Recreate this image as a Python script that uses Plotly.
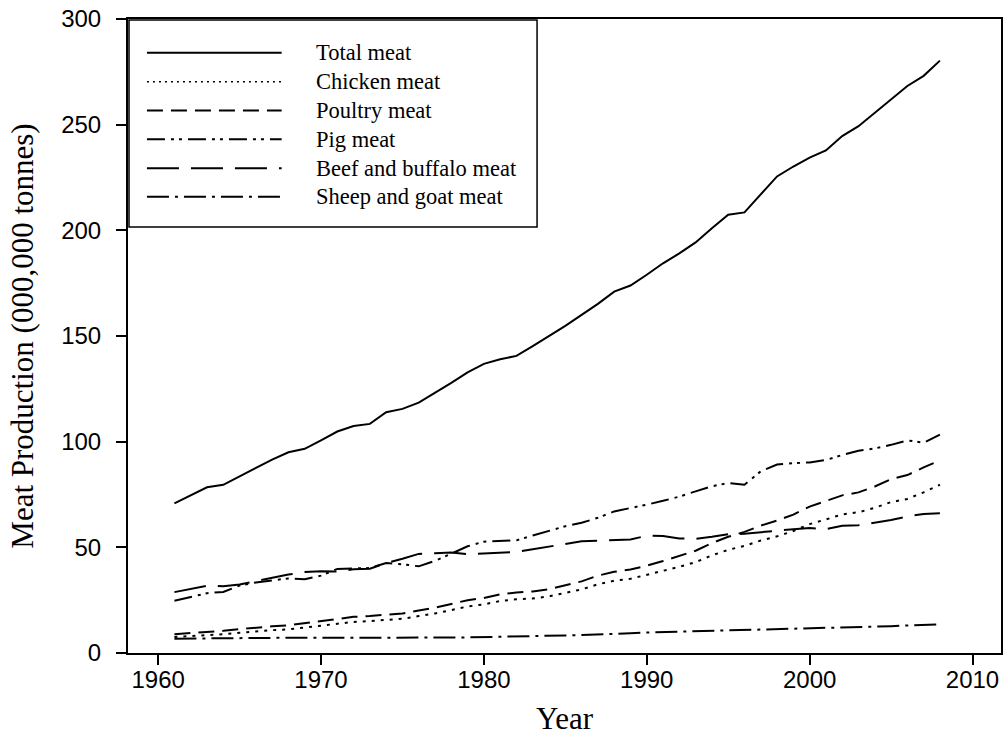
import plotly.graph_objects as go

years = list(range(1961, 2009))

total_meat = [70.8, 74.5, 78.4, 79.6, 83.6, 87.6, 91.5, 95.0, 96.6, 100.6,
              104.8, 107.4, 108.4, 113.9, 115.5, 118.5, 123.0, 127.8, 132.8, 136.8,
              139.0, 140.6, 145.2, 149.8, 154.8, 160.0, 165.2, 171.0, 173.9, 179.0,
              184.4, 189.1, 194.3, 201.0, 207.4, 208.5, 216.8, 225.5, 230.2, 234.4,
              237.8, 244.6, 249.3, 255.5, 262.1, 268.3, 273.1, 280.3]

chicken_meat = [7.6, 8.0, 8.5, 8.9, 9.6, 10.3, 10.8, 11.2, 12.1, 13.0,
                13.7, 14.7, 15.1, 15.6, 16.2, 17.5, 18.7, 20.3, 22.0, 23.0,
                24.6, 25.4, 25.8, 26.8, 28.3, 30.1, 32.5, 34.2, 35.1, 36.9,
                38.8, 40.8, 43.0, 46.2, 48.8, 50.7, 53.2, 55.2, 57.7, 61.0,
                63.2, 65.6, 66.6, 68.7, 71.4, 72.9, 76.0, 79.6]

poultry_meat = [8.9, 9.4, 10.0, 10.5, 11.3, 12.1, 12.6, 13.1, 14.1, 15.1,
                15.9, 17.1, 17.5, 18.1, 18.7, 20.1, 21.4, 23.2, 25.0, 26.0,
                27.8, 28.6, 29.1, 30.2, 31.9, 33.9, 36.6, 38.4, 39.5, 41.3,
                43.5, 45.8, 48.4, 52.0, 55.0, 57.3, 60.3, 62.7, 65.5, 69.3,
                71.8, 74.6, 76.0, 78.8, 82.3, 84.2, 87.8, 91.2]

pig_meat = [24.7, 26.4, 28.3, 28.9, 31.9, 33.4, 34.4, 35.3, 34.9, 36.6,
            39.8, 40.0, 40.2, 42.6, 42.0, 41.0, 43.6, 47.0, 50.5, 52.7,
            52.9, 53.3, 55.6, 57.8, 60.0, 61.6, 64.0, 67.0, 68.5, 70.2,
            72.0, 74.0, 76.5, 78.9, 80.4, 79.6, 86.0, 89.2, 89.8, 90.2,
            91.3, 93.7, 95.7, 96.8, 98.5, 100.6, 99.5, 103.3]

beef_buffalo_meat = [28.8, 30.2, 31.8, 31.6, 32.4, 34.0, 35.6, 37.1, 38.3, 38.7,
                     38.6, 39.6, 39.9, 42.6, 44.6, 46.9, 47.2, 47.5, 46.8, 47.1,
                     47.6, 47.8, 49.1, 50.5, 51.6, 52.9, 53.1, 53.3, 53.7, 55.5,
                     55.4, 54.2, 54.0, 55.0, 56.2, 56.4, 57.3, 57.9, 58.6, 59.1,
                     58.6, 60.2, 60.5, 61.6, 62.9, 64.6, 65.8, 66.1]

sheep_goat_meat = [6.8, 6.9, 6.9, 6.9, 7.0, 7.1, 7.1, 7.2, 7.2, 7.2,
                   7.2, 7.2, 7.0, 7.0, 7.1, 7.1, 7.2, 7.3, 7.4, 7.5,
                   7.7, 7.8, 8.0, 8.1, 8.3, 8.5, 8.7, 9.0, 9.3, 9.7,
                   9.9, 10.0, 10.1, 10.2, 10.4, 10.6, 10.9, 11.0, 11.2, 11.4,
                   11.6, 11.8, 12.0, 12.3, 12.7, 13.0, 13.3, 13.6]

series_names = ["Total meat", "Chicken meat", "Poultry meat", "Pig meat",
                "Beef and buffalo meat", "Sheep and goat meat"]
series_values = [total_meat, chicken_meat, poultry_meat, pig_meat,
                 beef_buffalo_meat, sheep_goat_meat]
dash_styles = ["solid", "3px,6px", "16px,8px", "18px,6px,3px,5px,3px,6px",
               "32px,12px", "22px,6px,3px,6px"]

x_ticks = [1960, 1970, 1980, 1990, 2000, 2010]
y_ticks = [0, 50, 100, 150, 200, 250, 300]

fig = go.Figure()
for name, vals, dash in zip(series_names, series_values, dash_styles):
    fig.add_trace(go.Scatter(
        x=years, y=vals, mode="lines", name=name,
        line=dict(color="black", width=2, dash=dash),
        showlegend=False,
    ))

# Hand-drawn key box in the upper-left corner of the plot area
plot_w = 1003 - 128
plot_h = 653 - 19


def px_x(p):
    return (p - 128) / plot_w


def px_y(p):
    return (653 - p) / plot_h


shapes = [dict(type="rect", xref="paper", yref="paper",
               x0=px_x(129), x1=px_x(538), y0=px_y(227), y1=px_y(20),
               line=dict(color="black", width=1.5), fillcolor="white", layer="above")]
annotations = []
row_y = [52.7, 81.7, 110.5, 139.3, 168.2, 196.8]
for name, dash, ry in zip(series_names, dash_styles, row_y):
    is_dot = dash == "3px,6px"
    shapes.append(dict(type="line", xref="paper", yref="paper",
                       x0=px_x(147), x1=px_x(282), y0=px_y(ry), y1=px_y(ry),
                       line=dict(color="black", width=1.5 if is_dot else 2,
                                 dash="2px,4px" if is_dot else dash),
                       layer="above"))
    annotations.append(dict(xref="paper", yref="paper", x=px_x(314), y=px_y(ry),
                            text=name, showarrow=False, xanchor="left", yanchor="middle",
                            font=dict(family="Liberation Serif", size=22.5, color="black")))

fig.update_layout(
    width=1004, height=739,
    margin=dict(l=128, r=1, t=19, b=86),
    paper_bgcolor="white", plot_bgcolor="white",
    shapes=shapes, annotations=annotations,
    xaxis=dict(
        range=[1958.15, 2011.75], tickvals=x_ticks, ticktext=[str(v) for v in x_ticks],
        showline=True, mirror=True, linecolor="black", linewidth=2,
        ticks="outside", ticklen=10, tickwidth=2, tickcolor="black",
        showgrid=False, zeroline=False, ticklabelstandoff=-6,
        tickfont=dict(family="Liberation Sans", size=24, color="black"),
        title=dict(text="Year", font=dict(family="Liberation Serif", size=31, color="black"),
                   standoff=16),
    ),
    yaxis=dict(
        range=[0, 300], tickvals=y_ticks, ticktext=[str(v) for v in y_ticks],
        showline=True, mirror=True, linecolor="black", linewidth=2,
        ticks="outside", ticklen=10, tickwidth=2, tickcolor="black",
        showgrid=False, zeroline=False, ticklabelstandoff=10,
        tickfont=dict(family="Liberation Sans", size=24, color="black"),
        title=dict(text="Meat Production (000,000 tonnes)",
                   font=dict(family="Liberation Serif", size=31, color="black"),
                   standoff=18),
    ),
)

fig.write_html("out.html")
